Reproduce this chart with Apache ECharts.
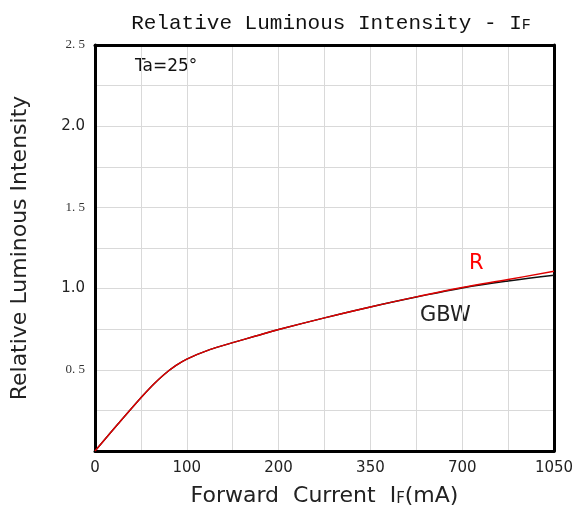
<!DOCTYPE html>
<html><head><meta charset="utf-8">
<script src="https://cdn.jsdelivr.net/npm/echarts@6/dist/echarts.min.js"></script>
<style>html,body{margin:0;padding:0;background:#fff;overflow:hidden}#c{width:586px;height:508px}</style>
</head><body><div id="c"></div>
<script>
// x tick labels (non-linear axis, one label every two grid cells)
const xTickLabels = ['0', '100', '200', '350', '700', '1050'];
// currents (mA) sampled along the curve
const currentMA = [0, 25, 50, 62.5, 75, 87.5, 100, 125, 150, 175, 200, 275, 350, 525, 700, 875, 1050];
const seriesR   = [0, 0.166, 0.328, 0.404, 0.47, 0.524, 0.566, 0.624, 0.667, 0.708, 0.748, 0.82, 0.887, 0.949, 1.007, 1.056, 1.107];
const seriesGBW = [0, 0.166, 0.328, 0.404, 0.47, 0.524, 0.566, 0.624, 0.667, 0.708, 0.748, 0.82, 0.887, 0.948, 1.004, 1.047, 1.082];
const yTickValues = [0.5, 1.0, 1.5, 2.0, 2.5];

// piecewise-linear mapping of current onto the axis (labels sit at positions 0,2,4,...)
const tickCurrents = xTickLabels.map(Number);
function toAxis(mA) {
  for (let i = 0; i < tickCurrents.length - 1; i++) {
    const a = tickCurrents[i], b = tickCurrents[i + 1];
    if (mA <= b) return 2 * i + 2 * (mA - a) / (b - a);
  }
  return 2 * (tickCurrents.length - 1);
}
const dataR = currentMA.map((c, i) => [toAxis(c), seriesR[i]]);
const dataG = currentMA.map((c, i) => [toAxis(c), seriesGBW[i]]);

const chart = echarts.init(document.getElementById('c'));
const sans = 'DejaVu Sans';
const border = { show: true, onZero: false, lineStyle: { color: '#000', width: 3 } };
chart.setOption({
  animation: false,
  title: {
    text: 'Relative Luminous Intensity - I{s|F}',
    left: 326, top: 8, textAlign: 'center',
    textStyle: { fontFamily: 'Liberation Mono', fontSize: 21, fontWeight: 'normal', color: '#111',
      rich: { s: { fontFamily: 'Liberation Mono', fontSize: 15, color: '#111', padding: [4,0,0,0] } } }
  },
  grid: { left: 95, right: 32, top: 45, bottom: 57, outerBoundsMode: 'none', containLabel: false },
  xAxis: [{
    type: 'value', min: 0, max: 10, interval: 1,
    axisLine: border, axisTick: { show: false },
    splitLine: { show: true, lineStyle: { color: '#d9d9d9', width: 1 } },
    axisLabel: { margin: 10, fontFamily: sans, fontSize: 15, color: '#222',
      formatter: v => (v % 2 === 0 ? xTickLabels[v / 2] : '') },
    name: 'Forward  Current  I{s|F}(mA)', nameLocation: 'middle', nameGap: 34,
    nameTextStyle: { fontFamily: sans, fontSize: 22, color: '#222',
      rich: { s: { fontFamily: sans, fontSize: 15, color: '#222', padding: [6,0,0,0] } } }
  }, {
    type: 'value', min: 0, max: 10, position: 'top',
    axisLine: border, axisTick: { show: false }, axisLabel: { show: false }, splitLine: { show: false }
  }],
  yAxis: [{
    type: 'value', min: 0, max: 2.5, interval: 0.25,
    axisLine: border, axisTick: { show: false },
    splitLine: { show: true, lineStyle: { color: '#d9d9d9', width: 1 } },
    axisLabel: { margin: 10, color: '#333',
      formatter: v => {
        if (!yTickValues.some(t => Math.abs(t - v) < 1e-6)) return '';
        const s = v.toFixed(1);
        return (Math.abs(v - 1) < 1e-6 || Math.abs(v - 2) < 1e-6) ? '{b|' + s + '}' : '{a|' + s.replace('.', '. ') + '}';
      },
      rich: {
        a: { fontFamily: 'Liberation Serif', fontSize: 13, color: '#333' },
        b: { fontFamily: sans, fontSize: 15, color: '#222' }
      } },
    name: 'Relative Luminous Intensity', nameLocation: 'middle', nameGap: 64,
    nameTextStyle: { fontFamily: sans, fontSize: 22, color: '#222' }
  }, {
    type: 'value', min: 0, max: 2.5, position: 'right',
    axisLine: border, axisTick: { show: false }, axisLabel: { show: false }, splitLine: { show: false }
  }],
  series: [
    { name: 'GBW', type: 'line', data: dataG, smooth: 0.4, symbol: 'none',
      lineStyle: { color: '#111', width: 1.4 } },
    { name: 'R', type: 'line', data: dataR, smooth: 0.4, symbol: 'none',
      lineStyle: { color: '#e00000', width: 1.4 } }
  ],
  graphic: [
    { type: 'text', left: 135, top: 58, style: { text: 'Ta=25°', font: '17px "DejaVu Sans"', fill: '#111' } },
    { type: 'text', left: 469, top: 253, style: { text: 'R', font: '21px "DejaVu Sans"', fill: '#ff0000' } },
    { type: 'text', left: 420, top: 305, style: { text: 'GBW', font: '21px "DejaVu Sans"', fill: '#222' } }
  ]
});
</script></body></html>
